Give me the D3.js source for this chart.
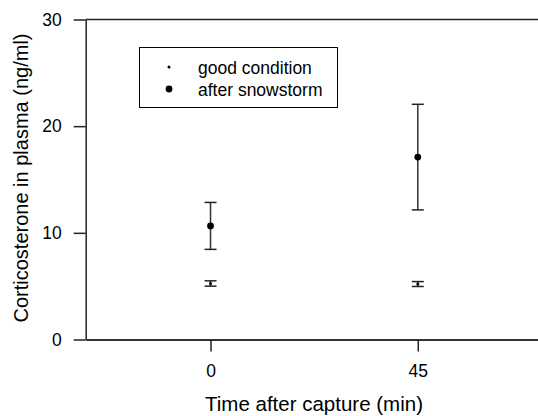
<!DOCTYPE html>
<html>
<head>
<meta charset="utf-8">
<script src="https://cdn.jsdelivr.net/npm/d3@7"></script>
<style>
  html, body { margin: 0; padding: 0; background: #fff; }
  svg { display: block; font-family: "Liberation Sans", Arial, sans-serif; }
</style>
</head>
<body>
<svg id="chart" width="538" height="416"></svg>
<script>
// ---- data ----
const times = [0, 45];
const xTickLabels = ["0", "45"];
const yTicks = [0, 10, 20, 30];
const seriesNames = ["good condition", "after snowstorm"];
const goodMean = [5.25, 5.2];
const goodErr = [0.25, 0.23];
const stormMean = [10.65, 17.1];
const stormErr = [2.2, 4.95];

(function () {
// ---- layout ----
const svg = d3.select("#chart");
const mLeft = 85.7, mRight = 538, mTop = 19.5, mBottom = 339.5;

const x = d3.scaleLinear().domain([-27.1, 71.1]).range([mLeft, mRight]);
const y = d3.scaleLinear().domain([0, 30]).range([mBottom, mTop]);

const axisColor = "#222";

// top frame line
svg.append("line")
  .attr("x1", mLeft).attr("x2", mRight)
  .attr("y1", y(30)).attr("y2", y(30))
  .attr("stroke", axisColor).attr("stroke-width", 1.5);

// y axis
const gy = svg.append("g")
  .attr("transform", `translate(${mLeft},0)`)
  .call(d3.axisLeft(y).tickValues(yTicks).tickFormat(d3.format("d")).tickSize(12).tickSizeOuter(0).tickPadding(12));
gy.selectAll("path").attr("stroke", axisColor).attr("stroke-width", 1.5);
gy.selectAll("line").attr("stroke", axisColor).attr("stroke-width", 1.5);
gy.selectAll("text").attr("font-size", 17.5).attr("fill", "#000")
  .attr("font-family", "'Liberation Sans', Arial, sans-serif");

// x axis
const gx = svg.append("g")
  .attr("transform", `translate(0,${mBottom})`)
  .call(d3.axisBottom(x).tickValues(times).tickFormat((d, i) => xTickLabels[i]).tickSize(12).tickSizeOuter(0).tickPadding(13));
gx.selectAll("path").attr("stroke", "#333").attr("stroke-width", 2);
gx.selectAll("line").attr("stroke", axisColor).attr("stroke-width", 1.5);
gx.selectAll("text").attr("font-size", 17.5).attr("fill", "#000")
  .attr("font-family", "'Liberation Sans', Arial, sans-serif");

// axis titles
svg.append("text")
  .attr("x", 314).attr("y", 411)
  .attr("text-anchor", "middle")
  .attr("font-size", 20.5)
  .text("Time after capture (min)");

svg.append("text")
  .attr("transform", `translate(27.5,178) rotate(-90)`)
  .attr("text-anchor", "middle")
  .attr("font-size", 20)
  .text("Corticosterone in plasma (ng/ml)");

// error bars
const capHalf = 6;
function drawSeries(means, errs, r) {
  const g = svg.append("g");
  times.forEach((t, i) => {
    const cx = x(t);
    const lo = y(means[i] - errs[i]), hi = y(means[i] + errs[i]);
    g.append("line").attr("x1", cx).attr("x2", cx).attr("y1", lo).attr("y2", hi)
      .attr("stroke", "#333").attr("stroke-width", 1.5);
    [lo, hi].forEach(v => {
      g.append("line").attr("x1", cx - capHalf).attr("x2", cx + capHalf)
        .attr("y1", v).attr("y2", v)
        .attr("stroke", "#222").attr("stroke-width", 1.5);
    });
    g.append("circle").attr("cx", cx).attr("cy", y(means[i])).attr("r", r).attr("fill", "#000");
  });
}
drawSeries(goodMean, goodErr, 1.5);
drawSeries(stormMean, stormErr, 3.4);

// legend
const lg = svg.append("g");
lg.append("rect")
  .attr("x", 139.5).attr("y", 47.5).attr("width", 198).attr("height", 60)
  .attr("fill", "#fff").attr("stroke", "#000").attr("stroke-width", 1);
const legendRadius = [1.5, 3.4];
seriesNames.forEach((name, i) => {
  const yy = 67 + i * 22;
  lg.append("circle").attr("cx", 169).attr("cy", yy).attr("r", legendRadius[i]).attr("fill", "#000");
  lg.append("text").attr("x", 198).attr("y", yy + 6.5).attr("font-size", 17.5).text(name);
});
})();
</script>
</body>
</html>
